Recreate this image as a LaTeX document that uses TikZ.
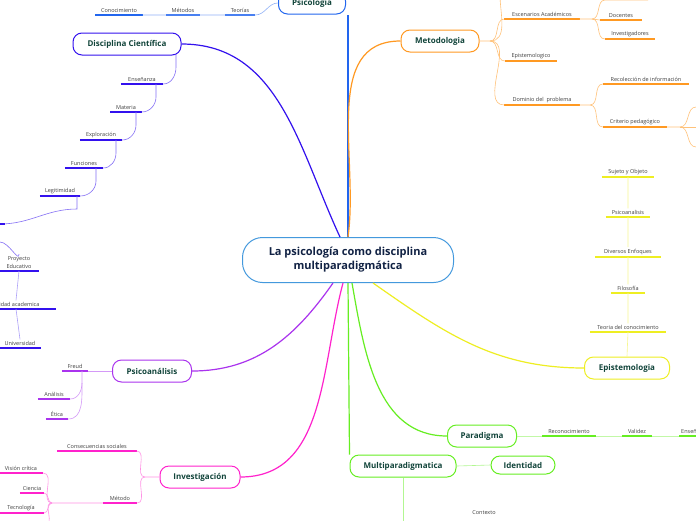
\documentclass[tikz,border=0pt]{standalone}
\usepackage{fontspec}
\setmainfont{Open Sans}
\usetikzlibrary{calc}
\definecolor{cenblue}{HTML}{4499DD}
\definecolor{psiblue}{HTML}{2266EE}
\definecolor{disblue}{HTML}{3311EE}
\definecolor{purp}{HTML}{AA33EE}
\definecolor{mag}{HTML}{FF22CC}
\definecolor{orng}{HTML}{FF9922}
\definecolor{yell}{HTML}{EEEE22}
\definecolor{grn}{HTML}{66EE22}
\definecolor{txtgreen}{HTML}{11443A}
\definecolor{txtnavy}{HTML}{112244}
\tikzset{main/.style={draw, line width=1pt, rounded corners=9pt, text=txtgreen,
    font=\bfseries\fontsize{8}{10}\selectfont, minimum height=22pt, inner sep=2pt},
  leaf/.style={font=\fontsize{5.5}{7}\selectfont, text=black!75, inner sep=2pt},
  twig/.style={line width=0.6pt}}
% colour, name, middle x, y of the line, width, text
\newcommand\leaf[6]{%
  \node[leaf, minimum width=#5pt, anchor=south] (#2) at (#3,#4) {#6};
  \draw[#1, line width=1.1pt] (#2.south west) -- (#2.south east);}
\begin{document}
\begin{tikzpicture}[x=1pt, y=-1pt]
\clip (0,0) rectangle (696,520);
\fill[white] (0,0) rectangle (696,520);

\node[main, draw=cenblue, text=txtnavy, align=center, font=\bfseries\fontsize{11}{14}\selectfont,
  minimum width=211pt, minimum height=45pt, rounded corners=20pt] (root) at (348,260)
  {La psicología como disciplina\\multiparadigmática};

% Psicologia
\node[main, draw=psiblue, minimum width=67pt] (psico) at (312,3) {Psicologia};
\draw[psiblue, line width=1.2pt] (root.north) -- (root.north |- psico.south);
\leaf{psiblue}{con}{119}{15}{47}{Conocimiento}
\leaf{psiblue}{met}{183}{15}{33}{Métodos}
\leaf{psiblue}{teo}{240}{15}{30}{Teorías}
\draw[psiblue!50, twig] (psico.west) to[out=180, in=0] (teo.south east) -- (con.south east);

% Disciplina Cientifica
\node[main, draw=disblue, minimum width=108pt] (disc) at (127,44) {Disciplina Científica};
\draw[disblue, line width=1.2pt] ($(root.north)+(-8,0)$) to[out=115, in=0] (disc.east);
\leaf{disblue}{ens}{142}{84}{42}{Enseñanza}
\leaf{disblue}{mat}{126}{112}{31}{Materia}
\leaf{disblue}{exp}{101}{140}{42}{Exploración}
\leaf{disblue}{fun}{84}{168}{38}{Funciones}
\leaf{disblue}{leg}{60}{196}{40}{Legitimidad}
\coordinate (pe0) at (0,224);
\draw[disblue!60, twig] (176,54) -- (176,67) to[out=270, in=0] (ens.south east);
\draw[disblue!60, twig] (156,84) -- (156,97) to[out=270, in=0] (mat.south east);
\draw[disblue!60, twig] (136,112) -- (136,125) to[out=270, in=0] (exp.south east);
\draw[disblue!60, twig] (116,140) -- (116,153) to[out=270, in=0] (fun.south east);
\draw[disblue!60, twig] (96,168) -- (96,181) to[out=270, in=0] (leg.south east);
\draw[disblue!60, twig] (77,196) -- (77,209) to[out=180, in=0] (pe0);
\draw[disblue, line width=1.1pt] (pe0) -- (5,224);
\leaf{disblue}{proy}{19}{271}{40}{\shortstack{Proyecto\\Educativo}}
\leaf{disblue}{unid}{16}{309}{80}{unidad academica}
\leaf{disblue}{univ}{20}{348}{42}{Universidad}
\draw[disblue!60, twig] (0,242) to[out=0, in=270] (proy.north);
\draw[disblue!40, twig] (proy.south) -- (unid.north) (unid.south) -- (univ.north);

% Psicoanalisis
\node[main, draw=purp, minimum width=79pt] (psa) at (152,371) {Psicoanálisis};
\draw[purp, line width=1.2pt] ($(root.south)+(-15,0)$) to[out=235, in=0] (psa.east);
\leaf{purp}{freud}{75}{371}{26}{Freud}
\leaf{purp}{anal}{54}{399}{32}{Análisis}
\leaf{purp}{etica}{57}{419}{22}{Ética}
\draw[purp!50, twig] (psa.west) -- (freud.south east);
\draw[purp!50, twig] (82,371) -- (82,383) to[out=270, in=0] (anal.south east);
\draw[purp!50, twig] (82,383) to[out=270, in=0] (etica.south east);

% Investigacion
\node[main, draw=mag, minimum width=80pt] (inv) at (200,477) {Investigación};
\draw[mag, line width=1.2pt] ($(root.south)+(-5,0)$) to[out=255, in=0] (inv.east);
\leaf{mag}{cons}{97}{451}{79}{Consecuencias sociales}
\leaf{mag}{meto2}{120}{503}{34}{Método}
\leaf{mag}{vis}{21}{473}{44}{Visión crítica}
\leaf{mag}{cien}{32}{493}{24}{Ciencia}
\leaf{mag}{tec}{21}{513}{46}{Tecnología}
\draw[mag!50, twig] (inv.west) -- (145,477) to[out=180, in=0] (cons.south east);
\draw[mag!50, twig] (145,477) to[out=180, in=0] (meto2.south east);
\draw[mag!50, twig] (meto2.south west) -- (52,503) to[out=180, in=0] (vis.south east);
\draw[mag!50, twig] (52,503) to[out=180, in=0] (cien.south east);
\draw[mag!50, twig] (52,503) to[out=180, in=0] (tec.south east);
\draw[mag!50, twig] (52,503) to[out=180, in=60] (48,525);

% Metodologia
\node[main, draw=orng, minimum width=78pt] (metod) at (440,41) {Metodologia};
\draw[orng, line width=1.2pt] (root.north) to[out=82, in=180] (metod.west);
\leaf{orng}{esc}{542}{19}{75}{Escenarios Académicos}
\leaf{orng}{epi}{531}{61}{52}{Epistemologico}
\leaf{orng}{dom}{542}{105}{75}{Dominio del \ problema}
\leaf{orng}{doc}{621}{20}{42}{Docentes}
\leaf{orng}{invs}{630}{39}{50}{Investigadores}
\leaf{orng}{rec}{646}{84}{86}{Recolección de información}
\leaf{orng}{crit}{635}{127}{64}{Criterio pedagógico}
\coordinate (m0) at (490,41);
\draw[orng!60, twig] (metod.east) -- (m0) to[out=0, in=270] (500,-5);
\draw[orng!60, twig] (m0) to[out=0, in=180] (esc.south west);
\draw[orng!60, twig] (m0) to[out=0, in=180] (epi.south west);
\draw[orng!60, twig] (m0) to[out=0, in=180] (dom.south west);
\draw[orng!60, twig] (esc.south east) -- (592,19) to[out=0, in=180] (605,0) -- (648,0);
\draw[orng!60, twig] (592,19) to[out=0, in=180] (doc.south west);
\draw[orng!60, twig] (592,19) to[out=0, in=180] (invs.south west);
\draw[orng!60, twig] (dom.south east) -- (590,105) to[out=0, in=180] (rec.south west);
\draw[orng!60, twig] (590,105) to[out=0, in=180] (crit.south west);
\draw[orng!60, twig] (crit.south east) -- (680,127) to[out=0, in=180] (696,107);
\draw[orng!60, twig] (680,127) -- (696,127);
\draw[orng!60, twig] (680,127) to[out=0, in=180] (696,147);

% Epistemologia
\node[main, draw=yell, minimum width=85pt] (epis) at (627,368) {Epistemologia};
\draw[yell, line width=1.2pt] ($(root.south)+(25,0)$) to[out=-35, in=180] (epis.west);
\leaf{yell}{tc}{628}{332}{76}{Teoria del conocimiento}
\leaf{yell}{fil}{628}{293}{34}{Filosofía}
\leaf{yell}{div}{628}{257}{65}{Diversos Enfoques}
\leaf{yell}{psi2}{628}{217}{44}{Psicoanalisis}
\leaf{yell}{suj}{628}{177}{52}{Sujeto y Objeto}
\draw[yell!50, twig] (epis.north) -- (tc.south) (tc.north) -- (fil.south)
  (fil.north) -- (div.south) (div.north) -- (psi2.south) (psi2.north) -- (suj.south);

% Paradigma
\node[main, draw=grn, minimum width=69pt] (par) at (482,436) {Paradigma};
\draw[grn, line width=1.2pt] ($(root.south)+(4,0)$) to[out=-80, in=180] (par.west);
\leaf{grn}{reco}{569}{436}{54}{Reconocimiento}
\leaf{grn}{val}{637}{436}{30}{Validez}
\node[leaf, anchor=south west] (ens2) at (679,436) {Enseñanza};
\draw[grn, line width=1.1pt] (ens2.south west) -- (696,436);
\draw[grn!40, twig] (par.east) -- (reco.south west) (reco.south east) -- (val.south west)
  (val.south east) -- (ens2.south west);

% Multiparadigmatica
\node[main, draw=grn, minimum width=106pt] (multi) at (403,466) {Multiparadigmatica};
\draw[grn, line width=1.2pt] (root.south) -- (multi.north west);
\node[main, draw=grn, minimum width=64pt, minimum height=18pt] (ident) at (523,465) {Identidad};
\draw[grn!50, twig] (multi.east) -- (ident.west);
\node[leaf] (ctx) at (484,513) {Contexto};
\draw[grn!50, twig] (multi.south) -- ++(0,50);
\end{tikzpicture}
\end{document}
